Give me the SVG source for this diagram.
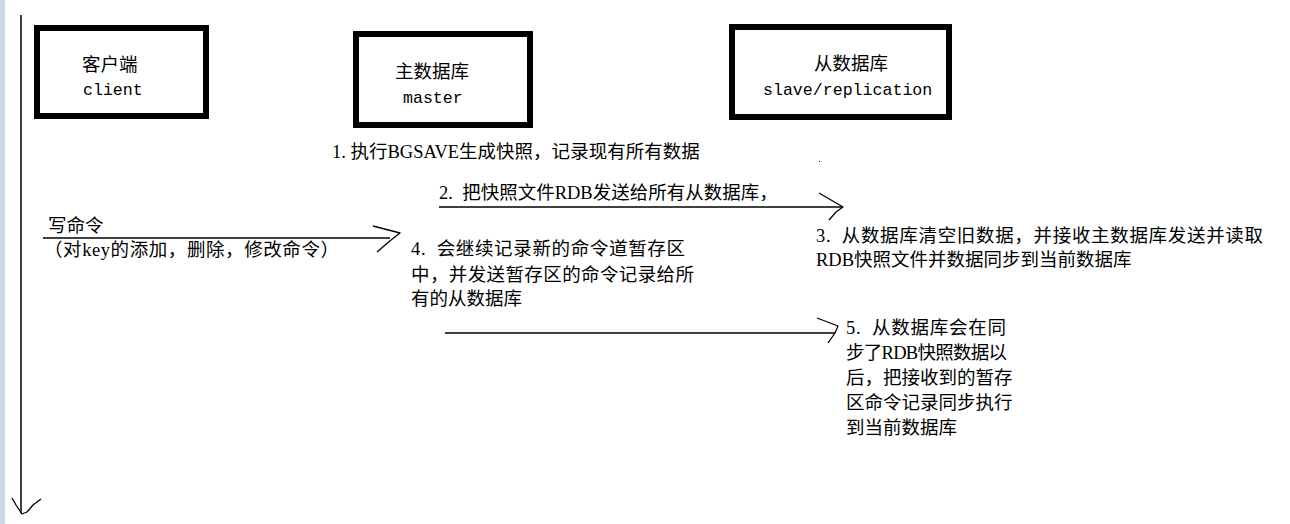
<svg xmlns="http://www.w3.org/2000/svg" width="1290" height="524" viewBox="0 0 1290 524">
  <style>
    .box { fill: #ffffff; stroke: #000000; stroke-width: 6; }
    .cn { font-family: "Liberation Serif", "Noto Sans CJK SC", serif; font-size: 18.5px; fill: #000000; white-space: pre; }
    .mono { font-family: "Liberation Mono", "Noto Sans CJK SC", monospace; font-size: 16.6px; fill: #000000; }
    .wire { fill: none; stroke: #000000; stroke-width: 1.5; }
    .head { fill: none; stroke: #000000; stroke-width: 1.3; stroke-linejoin: round; }
  </style>

  <!-- page background and left window strip -->
  <rect x="0" y="0" width="1290" height="524" fill="#ffffff"/>
  <rect x="0" y="0" width="5" height="524" fill="#cdd6e4"/>

  <!-- time axis -->
  <g id="timeline">
    <line class="wire" x1="21" y1="15" x2="21" y2="513"/>
    <polyline class="head" points="12,498 16,505 22,514 27,512 33,505 41,499"/>
  </g>

  <!-- participants -->
  <g id="client">
    <rect class="box" x="37" y="28" width="169" height="88"/>
    <text class="cn" x="82" y="71">客户端</text>
    <text class="mono" x="83" y="95">client</text>
  </g>

  <g id="master">
    <rect class="box" x="356" y="34" width="174" height="91"/>
    <text class="cn" x="395" y="78">主数据库</text>
    <text class="mono" x="403" y="103">master</text>
  </g>

  <g id="slave">
    <rect class="box" x="732" y="27" width="217" height="90"/>
    <text class="cn" x="814" y="70">从数据库</text>
    <text class="mono" x="763" y="95">slave/replication</text>
  </g>

  <!-- messages -->
  <g id="connectors">
    <!-- write command: client to master -->
    <line class="wire" x1="43" y1="238" x2="390" y2="238"/>
    <polyline class="head" points="373,226 400,233 391,240 377,252"/>
    <!-- snapshot transfer: master to slave -->
    <line class="wire" x1="439" y1="207" x2="843" y2="207"/>
    <polyline class="head" points="819,193 843,207 836,212 829,220"/>
    <rect x="819" y="161" width="1" height="1" fill="#000000"/>
    <!-- buffered commands: master to slave -->
    <line class="wire" x1="445" y1="333" x2="835" y2="333"/>
    <polyline class="head" points="817,318 838,326 835,333 828,343"/>
  </g>

  <g id="write-label">
    <text class="cn" x="48" y="232">写命令</text>
    <text class="cn" x="44" y="256" textLength="295" lengthAdjust="spacing">（对key的添加，删除，修改命令）</text>
  </g>

  <g id="step1">
    <text class="cn" x="332" y="158">1. 执行BGSAVE生成快照，记录现有所有数据</text>
  </g>

  <g id="step2">
    <text class="cn" x="439" y="199">2.  把快照文件RDB发送给所有从数据库，</text>
  </g>

  <g id="step3">
    <text class="cn" x="816" y="242" textLength="447" lengthAdjust="spacing">3.  从数据库清空旧数据，并接收主数据库发送并读取</text>
    <text class="cn" x="816" y="266">RDB快照文件并数据同步到当前数据库</text>
  </g>

  <g id="step4">
    <text class="cn" x="411" y="255" textLength="274" lengthAdjust="spacing">4.  会继续记录新的命令道暂存区</text>
    <text class="cn" x="411" y="281" textLength="283" lengthAdjust="spacing">中，并发送暂存区的命令记录给所</text>
    <text class="cn" x="411" y="305">有的从数据库</text>
  </g>

  <g id="step5">
    <text class="cn" x="846" y="334" textLength="160" lengthAdjust="spacing">5.  从数据库会在同</text>
    <text class="cn" x="846" y="359" textLength="161" lengthAdjust="spacing">步了RDB快照数据以</text>
    <text class="cn" x="846" y="384">后，把接收到的暂存</text>
    <text class="cn" x="846" y="409">区命令记录同步执行</text>
    <text class="cn" x="846" y="434">到当前数据库</text>
  </g>
</svg>
